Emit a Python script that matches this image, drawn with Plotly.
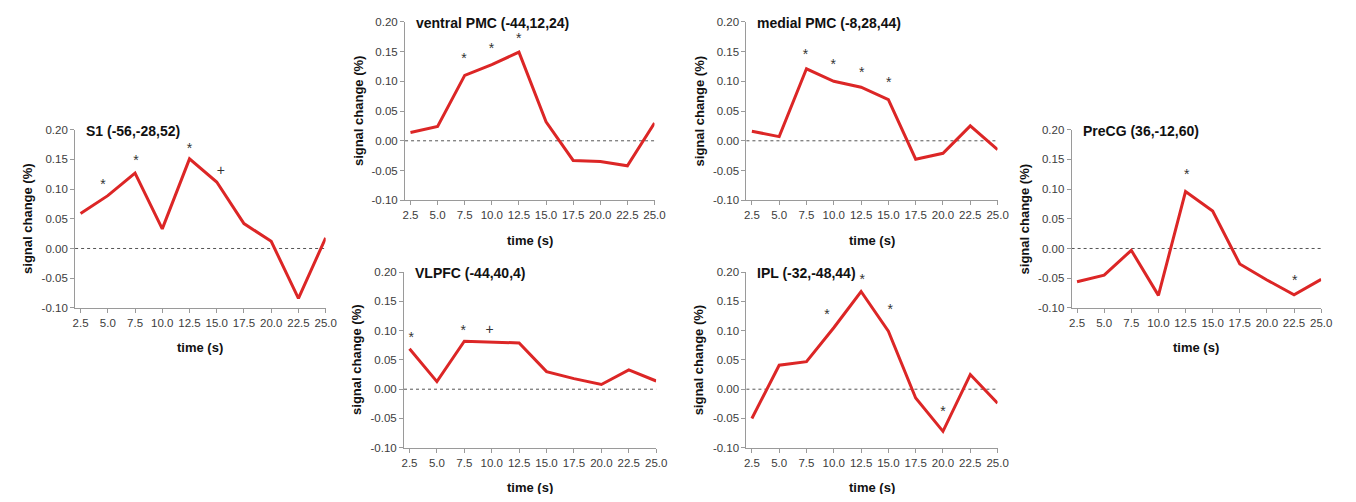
import plotly.graph_objects as go

# ---------------- data ----------------
time_s = [2.5, 5.0, 7.5, 10.0, 12.5, 15.0, 17.5, 20.0, 22.5, 25.0]
x_tick_labels = ["2.5", "5.0", "7.5", "10.0", "12.5", "15.0", "17.5", "20.0", "22.5", "25.0"]
y_tick_vals = [-0.10, -0.05, 0.00, 0.05, 0.10, 0.15, 0.20]
y_tick_labels = ["-0.10", "-0.05", "0.00", "0.05", "0.10", "0.15", "0.20"]

titles = ["S1 (-56,-28,52)", "ventral PMC (-44,12,24)", "VLPFC (-44,40,4)",
          "medial PMC (-8,28,44)", "IPL (-32,-48,44)", "PreCG (36,-12,60)"]
x_title = "time (s)"
y_title = "signal change (%)"

s1_values = [0.059, 0.089, 0.127, 0.033, 0.151, 0.112, 0.042, 0.012, -0.084, 0.018]
s1_mark_x = [4.56, 7.59, 12.49, 15.37]
s1_mark_y = [0.106, 0.146, 0.166, 0.129]
s1_mark_txt = ["*", "*", "*", "+"]

vpmc_values = [0.014, 0.024, 0.110, 0.128, 0.149, 0.032, -0.033, -0.035, -0.042, 0.030]
vpmc_mark_x = [7.43, 9.98, 12.48]
vpmc_mark_y = [0.136, 0.154, 0.170]
vpmc_mark_txt = ["*", "*", "*"]

vlpfc_values = [0.069, 0.013, 0.082, 0.080, 0.079, 0.030, 0.018, 0.008, 0.033, 0.014]
vlpfc_mark_x = [2.65, 7.40, 9.81]
vlpfc_mark_y = [0.086, 0.099, 0.100]
vlpfc_mark_txt = ["*", "*", "+"]

mpmc_values = [0.016, 0.007, 0.121, 0.100, 0.090, 0.069, -0.031, -0.021, 0.025, -0.015]
mpmc_mark_x = [7.42, 9.96, 12.55, 15.03]
mpmc_mark_y = [0.143, 0.127, 0.113, 0.097]
mpmc_mark_txt = ["*", "*", "*", "*"]

ipl_values = [-0.050, 0.041, 0.047, 0.105, 0.167, 0.099, -0.015, -0.072, 0.025, -0.024]
ipl_mark_x = [9.38, 12.61, 15.18, 20.01]
ipl_mark_y = [0.126, 0.185, 0.134, -0.039]
ipl_mark_txt = ["*", "*", "*", "*"]

precg_values = [-0.056, -0.045, -0.003, -0.079, 0.096, 0.063, -0.026, -0.053, -0.078, -0.052]
precg_mark_x = [12.60, 22.57]
precg_mark_y = [0.123, -0.055]
precg_mark_txt = ["*", "*"]

# ---------------- layout geometry (page pixels) ----------------
PAGE_W, PAGE_H = 1356, 502
BODY_MARGIN = 8  # default browser body margin around the plot div
W, H = PAGE_W - 2 * BODY_MARGIN, PAGE_H - 2 * BODY_MARGIN
# (x of 2.5 tick, x of 25.0 tick, y of 0.20, y of -0.10) in page pixels
geom = [
    (78.3, 326.0, 126.7, 309.3),   # S1
    (411.7, 658.3, 16.0, 199.0),   # ventral PMC
    (410.7, 660.0, 272.7, 452.7),  # VLPFC
    (756.7, 1005.0, 16.0, 199.0),  # medial PMC
    (756.7, 1005.0, 272.7, 452.7), # IPL
    (1085.3, 1332.0, 126.7, 309.3),# PreCG
]

panels = [
    (s1_values, s1_mark_x, s1_mark_y, s1_mark_txt),
    (vpmc_values, vpmc_mark_x, vpmc_mark_y, vpmc_mark_txt),
    (vlpfc_values, vlpfc_mark_x, vlpfc_mark_y, vlpfc_mark_txt),
    (mpmc_values, mpmc_mark_x, mpmc_mark_y, mpmc_mark_txt),
    (ipl_values, ipl_mark_x, ipl_mark_y, ipl_mark_txt),
    (precg_values, precg_mark_x, precg_mark_y, precg_mark_txt),
]

FONT = "Liberation Sans, Arial, Helvetica, sans-serif"
RED = "#dc2626"
AXIS_GRAY = "#9a9a9a"
TICK_TXT = "#3c3c3c"

fig = go.Figure()
layout = dict(
    width=W, height=H, margin=dict(l=0, r=0, t=0, b=0),
    paper_bgcolor="white", plot_bgcolor="white",
    showlegend=False, font=dict(family=FONT),
    annotations=[], shapes=[],
)

X0 = 2.0
for i, ((vals, mx, my, mt), g, title) in enumerate(zip(panels, geom, titles)):
    x25, x250, ytop, ybot = [v - BODY_MARGIN for v in g]
    n = i + 1
    xs = "x" if n == 1 else f"x{n}"
    ys = "y" if n == 1 else f"y{n}"
    xkey = "xaxis" if n == 1 else f"xaxis{n}"
    ykey = "yaxis" if n == 1 else f"yaxis{n}"
    ppu = (x250 - x25) / 22.5
    left = x25 - (2.5 - X0) * ppu
    layout[xkey] = dict(
        domain=[left / W, x250 / W], anchor=ys, range=[X0, 25.0],
        tickvals=time_s, ticktext=x_tick_labels, ticks="outside", ticklen=4,
        tickcolor=AXIS_GRAY, showline=True, linecolor=AXIS_GRAY, linewidth=1,
        showgrid=False, zeroline=False,
        tickfont=dict(family=FONT, size=11.5, color=TICK_TXT), fixedrange=True,
    )
    layout[ykey] = dict(
        domain=[(H - ybot) / H, (H - ytop) / H], anchor=xs, range=[-0.10, 0.20],
        tickvals=y_tick_vals, ticktext=y_tick_labels, ticks="outside", ticklen=4,
        tickcolor=AXIS_GRAY, showline=True, linecolor=AXIS_GRAY, linewidth=1,
        showgrid=False, zeroline=False,
        tickfont=dict(family=FONT, size=11.5, color=TICK_TXT), fixedrange=True,
    )
    # dotted zero line
    layout["shapes"].append(dict(
        type="line", xref=f"{xs} domain", x0=0, x1=1, yref=ys, y0=0, y1=0,
        line=dict(color="#555555", width=1, dash="dot"), layer="below",
    ))
    fig.add_trace(go.Scatter(
        x=time_s, y=vals, xaxis=xs, yaxis=ys, mode="lines",
        line=dict(color=RED, width=3), hoverinfo="x+y",
    ))
    fig.add_trace(go.Scatter(
        x=mx, y=my, xaxis=xs, yaxis=ys, mode="text", text=mt,
        textposition="middle center", cliponaxis=False,
        textfont=dict(family=FONT, size=14, color="#333333"), hoverinfo="skip",
    ))
    # panel title
    layout["annotations"].append(dict(
        text=f"<b>{title}</b>", xref=f"{xs} domain", yref=f"{ys} domain",
        x=0, y=1, xanchor="left", yanchor="middle", xshift=9, yshift=-1,
        showarrow=False, font=dict(family=FONT, size=14, color="#111111"),
    ))
    # x axis title
    layout["annotations"].append(dict(
        text=f"<b>{x_title}</b>", xref=f"{xs} domain", yref=f"{ys} domain",
        x=0.5, y=0, xanchor="center", yanchor="middle", yshift=-40,
        showarrow=False, font=dict(family=FONT, size=13, color="#111111"),
    ))
    # y axis title
    layout["annotations"].append(dict(
        text=f"<b>{y_title}</b>", xref=f"{xs} domain", yref=f"{ys} domain",
        x=0, y=0.5, xanchor="center", yanchor="middle", xshift=-47,
        textangle=-90, showarrow=False,
        font=dict(family=FONT, size=13, color="#111111"),
    ))

fig.update_layout(**layout)
fig.write_html("out.html")
